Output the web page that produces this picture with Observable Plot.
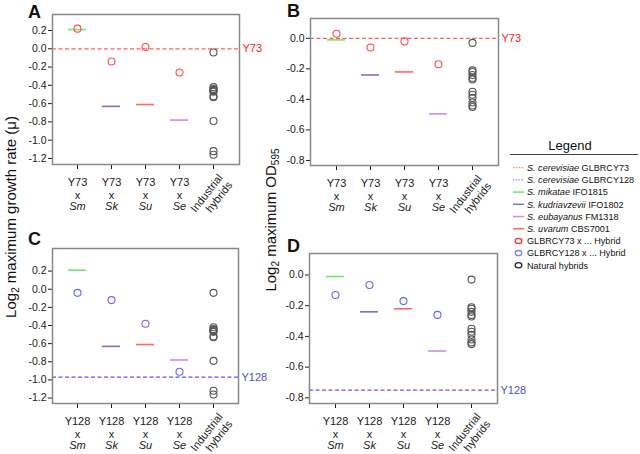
<!DOCTYPE html>
<html><head><meta charset="utf-8">
<script src="https://cdn.jsdelivr.net/npm/d3@7"></script>
<script src="https://cdn.jsdelivr.net/npm/@observablehq/plot@0.6"></script>
<style>
body{margin:0;background:#fff;}
#root{position:relative;width:640px;height:454px;font-family:"Liberation Sans",Arial,sans-serif;overflow:hidden;background:#fff}
.ylab{position:absolute;white-space:nowrap;font-size:15px;color:#111;transform:translate(-50%,-50%) rotate(-90deg);line-height:1}
.ylab sub{font-size:10px;vertical-align:-3px;line-height:0}
.letter{position:absolute;font-weight:bold;font-size:18px;line-height:1;color:#111}
</style></head><body><div id="root"></div>
<script>
const categories = ["Sm","Sk","Su","Se","Industrial"];
const parentSpecies = ["S. mikatae","S. kudriavzevii","S. uvarum","S. eubayanus"];
const speciesColor = {"S. mikatae":"#6fe86f","S. kudriavzevii":"#7777b8","S. uvarum":"#ff6666","S. eubayanus":"#c98cf0"};

const growthTicks = [0.2,0,-0.2,-0.4,-0.6,-0.8,-1.0,-1.2];
const odTicks = [0,-0.2,-0.4,-0.6,-0.8];

const growthParent = [0.21,-0.63,-0.61,-0.78];
const growthY73Hybrid = [0.22,-0.14,0.02,-0.26];
const growthY128Hybrid = [-0.04,-0.12,-0.38,-0.91];
const growthIndustrial = [-0.04,-0.42,-0.44,-0.45,-0.46,-0.47,-0.52,-0.53,-0.79,-1.12,-1.16];
const growthRefY73 = 0.0;
const growthRefY128 = -0.97;

const odParent = [-0.01,-0.24,-0.22,-0.495];
const odY73Hybrid = [0.03,-0.06,-0.02,-0.17];
const odY128Hybrid = [-0.13,-0.065,-0.17,-0.26];
const odIndustrial = [-0.03,-0.21,-0.22,-0.24,-0.26,-0.27,-0.35,-0.37,-0.39,-0.42,-0.44,-0.45];
const odRefY73 = 0.0;
const odRefY128 = -0.75;

const root = document.getElementById("root");
const FONT = "'Liberation Sans', Arial, sans-serif";

function panel(o){
  const mL=42,mR=40,mT=10,mB=64;
  const w=o.frame[1]-o.frame[0], h=o.frame[3]-o.frame[2];
  const parents = categories.slice(0,4).map((c,i)=>({cat:c, value:o.parent[i], color:speciesColor[parentSpecies[i]]}));
  const hyb = categories.slice(0,4).map((c,i)=>({cat:c, value:o.hyb[i]}));
  const svg = Plot.plot({
    width:w+mL+mR, height:h+mT+mB, marginLeft:mL, marginRight:mR, marginTop:mT, marginBottom:mB,
    style:{fontFamily:FONT, fontSize:"10.5px", color:"#1a1a1a", background:"transparent", overflow:"visible"},
    x:{type:"band", domain:categories, paddingInner:0.47, paddingOuter:0.45},
    y:{domain:o.domain},
    color:{type:"identity"},
    marks:[
      Plot.axisY({ticks:o.ticks, tickFormat:d=>d.toFixed(1), tickSize:4, tickPadding:2, label:null, fontSize:10.5}),
      Plot.axisX({tickSize:5, tickFormat:()=>"", label:null}),
      Plot.ruleY([o.ref],{stroke:o.refStroke, strokeDasharray:"4,2.5", strokeWidth:1.2}),
      Plot.text([o.refLabel],{y:()=>o.ref, text:d=>d, frameAnchor:"right", textAnchor:"start", dx:3, fill:o.refText, fontSize:11}),
      Plot.tickY(parents,{x:"cat", y:"value", stroke:"color", strokeWidth:1.6}),
      Plot.dot(hyb,{x:"cat", y:"value", stroke:o.hybStroke, r:3.5, strokeWidth:1.1}),
      Plot.dot(o.industrial,{x:()=>"Industrial", y:d=>d, stroke:"#555", r:3.5, strokeWidth:1.1}),
      Plot.frame({stroke:"#888", strokeWidth:1.5}),
      Plot.text(categories.slice(0,4),{x:d=>d, text:()=>o.prefix+"\nx", frameAnchor:"bottom", lineAnchor:"top", dy:13, fontSize:11, lineHeight:1.15}),
      Plot.text(categories.slice(0,4),{x:d=>d, text:d=>d, frameAnchor:"bottom", lineAnchor:"top", dy:38, fontSize:11, fontStyle:"italic"}),
      Plot.text(["Industrial\nhybrids"],{x:()=>"Industrial", text:d=>d, frameAnchor:"bottom", textAnchor:"end", lineAnchor:"top", rotate:-52, dx:3, dy:8, fontSize:11, lineHeight:1.1})
    ]
  });
  svg.style.position="absolute";
  svg.style.left=(o.frame[0]-mL)+"px";
  svg.style.top=(o.frame[2]-mT)+"px";
  root.appendChild(svg);
}

panel({frame:[52,239,14,164], domain:[-1.266,0.375], ticks:growthTicks, parent:growthParent, hyb:growthY73Hybrid, hybStroke:"#ff4d4d",
  industrial:growthIndustrial, ref:growthRefY73, refStroke:"#ff6060", refText:"#ff2020", refLabel:"Y73", prefix:"Y73"});
panel({frame:[310,498,18,165], domain:[-0.833,0.13], ticks:odTicks, parent:odParent, hyb:odY73Hybrid, hybStroke:"#ff4d4d",
  industrial:odIndustrial, ref:odRefY73, refStroke:"#ff6060", refText:"#ff2020", refLabel:"Y73", prefix:"Y73"});
panel({frame:[52,238,248,403], domain:[-1.26,0.449], ticks:growthTicks, parent:growthParent, hyb:growthY128Hybrid, hybStroke:"#6666ff",
  industrial:growthIndustrial, ref:growthRefY128, refStroke:"#5a5aff", refText:"#5050d0", refLabel:"Y128", prefix:"Y128"});
panel({frame:[309,497,253,403], domain:[-0.837,0.14], ticks:odTicks, parent:odParent, hyb:odY128Hybrid, hybStroke:"#6666ff",
  industrial:odIndustrial, ref:odRefY128, refStroke:"#5a5aff", refText:"#5050d0", refLabel:"Y128", prefix:"Y128"});

// panel letters
[["A",28,3],["B",287,2],["C",28,230],["D",287,237]].forEach(([t,x,y])=>{
  const d=document.createElement("div"); d.className="letter"; d.textContent=t;
  d.style.left=x+"px"; d.style.top=y+"px"; root.appendChild(d);
});
// y-axis titles
function ylab(html,x,y){const d=document.createElement("div"); d.className="ylab"; d.innerHTML=html; d.style.left=x+"px"; d.style.top=y+"px"; root.appendChild(d);}
ylab("Log<sub>2</sub> maximum growth rate (μ)",10,217);
ylab("Log<sub>2</sub> maximum OD<sub>595</sub>",270,220);

// legend
const legendItems = [
  {kind:"dash", color:"#ff7070", it:"S. cerevisiae", rest:" GLBRCY73"},
  {kind:"dash", color:"#7070ff", it:"S. cerevisiae", rest:" GLBRCY128"},
  {kind:"line", color:speciesColor["S. mikatae"], it:"S. mikatae", rest:" IFO1815"},
  {kind:"line", color:speciesColor["S. kudriavzevii"], it:"S. kudriavzevii", rest:" IFO1802"},
  {kind:"line", color:speciesColor["S. eubayanus"], it:"S. eubayanus", rest:" FM1318"},
  {kind:"line", color:speciesColor["S. uvarum"], it:"S. uvarum", rest:" CBS7001"},
  {kind:"dot", color:"#ff3030", it:"", rest:"GLBRCY73 x ... Hybrid"},
  {kind:"dot", color:"#8080ff", it:"", rest:"GLBRCY128 x ... Hybrid"},
  {kind:"dot", color:"#222", it:"", rest:"Natural hybrids"}
];
const lg = d3.create("svg").attr("width",140).attr("height",140)
  .style("position","absolute").style("left","500px").style("top","132px").style("font-family",FONT);
lg.append("text").attr("x",70).attr("y",18).attr("text-anchor","middle").attr("font-size",13).attr("fill","#111").text("Legend");
lg.append("line").attr("x1",10).attr("x2",138).attr("y1",22.5).attr("y2",22.5).attr("stroke","#444").attr("stroke-width",1);
legendItems.forEach((d,i)=>{
  const y = 35.7 + i*12.2;
  if(d.kind==="dot"){
    lg.append("ellipse").attr("cx",18.5).attr("cy",y).attr("rx",3.3).attr("ry",2.6).attr("fill","none").attr("stroke",d.color).attr("stroke-width",1.3);
  } else {
    lg.append("line").attr("x1",13).attr("x2",24).attr("y1",y).attr("y2",y).attr("stroke",d.color)
      .attr("stroke-width",d.kind==="dash"?1:1.5).attr("stroke-dasharray",d.kind==="dash"?"1.5,1.2":null);
  }
  const t = lg.append("text").attr("x",27).attr("y",y+3.2).attr("font-size",9.1).attr("fill","#111");
  if(d.it) t.append("tspan").attr("font-style","italic").text(d.it);
  t.append("tspan").text(d.rest);
});
root.appendChild(lg.node());
</script></body></html>
